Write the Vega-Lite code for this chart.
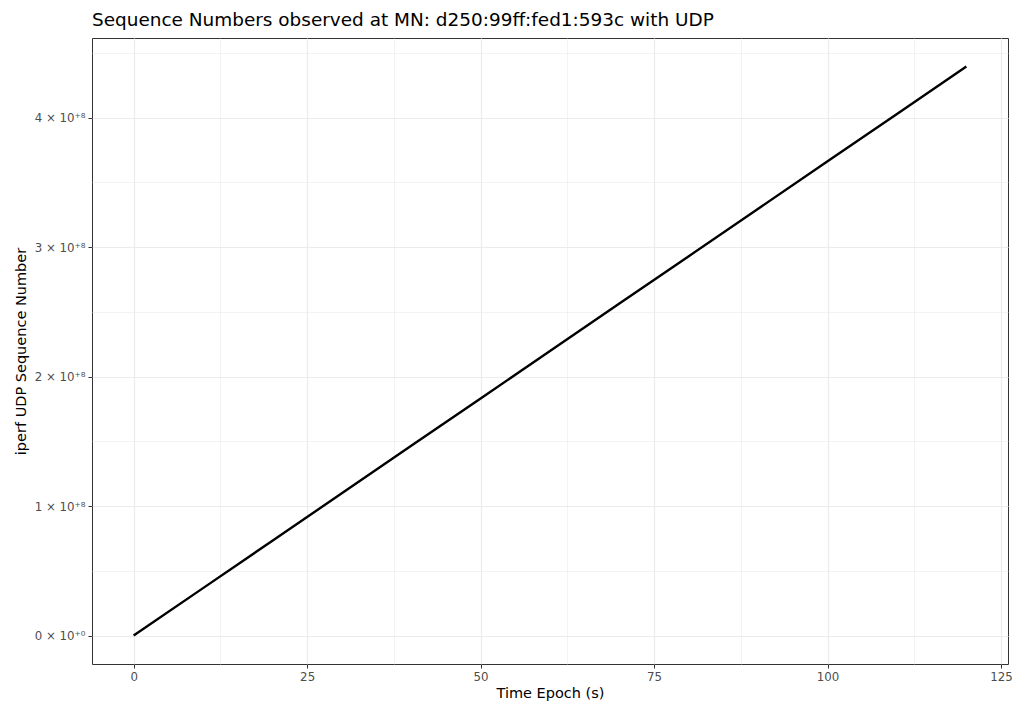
{
  "$schema": "https://vega.github.io/schema/vega-lite/v6.json",
  "width": 916,
  "height": 626,
  "autosize": {"type": "none"},
  "padding": {"left": 92, "top": 38, "right": 15, "bottom": 40},
  "background": "white",
  "title": {"text": "Sequence Numbers observed at MN: d250:99ff:fed1:593c with UDP", "anchor": "start", "frame": "group", "font": "DejaVu Sans", "fontSize": 18.45, "fontWeight": "normal", "color": "#000000", "offset": 9},
  "config": {
    "view": {"stroke": "#333333", "strokeWidth": 1},
    "axis": {"labelFont": "DejaVu Sans", "titleFont": "DejaVu Sans", "labelFontSize": 11.8, "labelColor": "#4d4d4d", "titleFontSize": 14.5, "titleColor": "#000000", "titleFontWeight": "normal", "domain": false, "tickColor": "#333333", "tickSize": 4, "labelPadding": 3}
  },
  "data": {"values": [
    {"t": 0, "seq": 0},
    {"t": 10, "seq": 36620000},
    {"t": 20, "seq": 73250000},
    {"t": 30, "seq": 109870000},
    {"t": 40, "seq": 146500000},
    {"t": 50, "seq": 183120000},
    {"t": 60, "seq": 219750000},
    {"t": 70, "seq": 256370000},
    {"t": 80, "seq": 293000000},
    {"t": 90, "seq": 329620000},
    {"t": 100, "seq": 366250000},
    {"t": 110, "seq": 402870000},
    {"t": 120, "seq": 439500000}
  ]},
  "mark": {"type": "line", "color": "#000000", "strokeWidth": 2.4},
  "encoding": {
    "x": {"field": "t", "type": "quantitative",
      "scale": {"domain": [-6, 126], "nice": false, "zero": false},
      "axis": {"title": "Time Epoch (s)", "titlePadding": 4,
        "values": [0, 12.5, 25, 37.5, 50, 62.5, 75, 87.5, 100, 112.5, 125],
        "labelExpr": "datum.value % 25 === 0 ? datum.label : ''",
        "tickOpacity": {"condition": {"test": "datum.value % 25 === 0", "value": 1}, "value": 0},
        "gridColor": "#ebebeb",
        "gridWidth": {"condition": {"test": "datum.value % 25 === 0", "value": 1.2}, "value": 0.6}}},
    "y": {"field": "seq", "type": "quantitative",
      "scale": {"domain": [-21975000, 461475000], "nice": false, "zero": false},
      "axis": {"title": "iperf UDP Sequence Number", "titlePadding": 6,
        "values": [0, 50000000, 100000000, 150000000, 200000000, 250000000, 300000000, 350000000, 400000000, 450000000],
        "labelExpr": "datum.value % 100000000 !== 0 ? '' : (datum.value === 0 ? '0 × 10⁺⁰' : (datum.value / 100000000) + ' × 10⁺⁸')",
        "tickOpacity": {"condition": {"test": "datum.value % 100000000 === 0", "value": 1}, "value": 0},
        "gridColor": "#ebebeb",
        "gridWidth": {"condition": {"test": "datum.value % 100000000 === 0", "value": 1.2}, "value": 0.6}}}
  }
}
